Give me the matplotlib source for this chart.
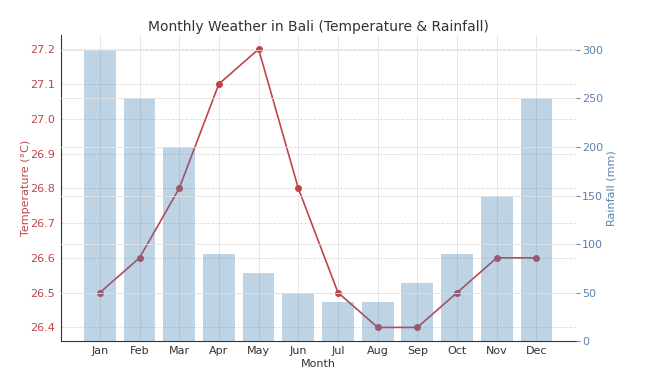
import matplotlib
matplotlib.use('Agg')
import matplotlib.pyplot as plt

months = ['Jan', 'Feb', 'Mar', 'Apr', 'May', 'Jun', 'Jul', 'Aug', 'Sep', 'Oct', 'Nov', 'Dec']
temperature = [26.5, 26.6, 26.8, 27.1, 27.2, 26.8, 26.5, 26.4, 26.4, 26.5, 26.6, 26.6]
rainfall = [300, 250, 200, 90, 70, 50, 40, 40, 60, 90, 150, 250]

temp_color = '#c0454a'
rain_color = '#5a82ab'

fig, ax1 = plt.subplots(figsize=(6.58, 3.71), dpi=100)

ax1.plot(months, temperature, color=temp_color, marker='o', markersize=4, linewidth=1.2)
ax1.set_xlabel('Month', fontsize=8, color='#333333', labelpad=2)
ax1.set_ylabel('Temperature (°C)', color=temp_color, fontsize=8)
ax1.yaxis.set_label_coords(-0.058, 0.5)
ax1.tick_params(axis='y', labelcolor=temp_color, labelsize=8, length=0, pad=4)
ax1.tick_params(axis='x', labelsize=8, labelcolor='#333333', length=0)
ax1.grid(True, axis='y', color='#dddddd', linestyle='--', linewidth=0.6)
ax1.grid(True, axis='x', color='#e2e2e2', linestyle='-', linewidth=0.6)
for s in ['top', 'right']:
    ax1.spines[s].set_visible(False)
for s in ['left', 'bottom']:
    ax1.spines[s].set_color('#333333')

ax2 = ax1.twinx()
ax2.bar(months, rainfall, color='steelblue', alpha=0.35, width=0.8)
ax2.set_ylabel('Rainfall (mm)', color=rain_color, fontsize=8)
ax2.yaxis.set_label_coords(1.06, 0.5)
ax2.tick_params(axis='y', labelcolor=rain_color, labelsize=8, length=3, pad=1.5, color='#888888')
ax2.grid(True, color='#e2e2e2', linestyle='-', linewidth=0.6)
for s in ['top', 'right', 'left', 'bottom']:
    ax2.spines[s].set_visible(False)

ax1.set_title('Monthly Weather in Bali (Temperature & Rainfall)', fontsize=10, color='#333333', pad=3)

fig.subplots_adjust(left=0.092, right=0.875, top=0.905, bottom=0.08)
fig.savefig('out.png')
